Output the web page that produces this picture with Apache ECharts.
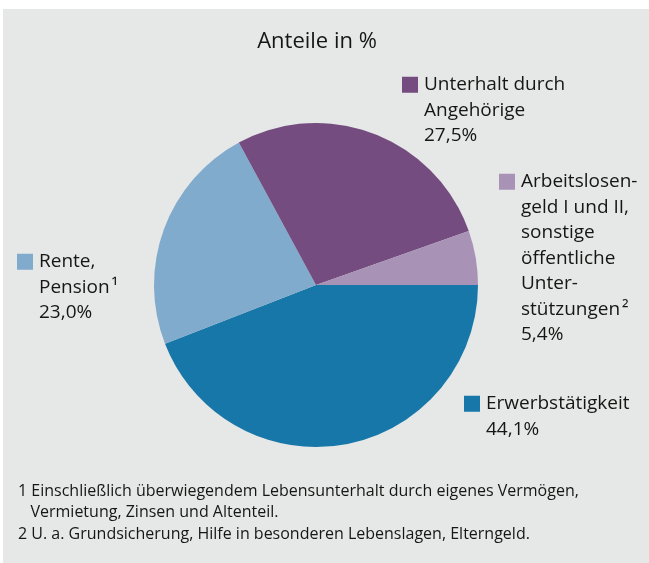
<!DOCTYPE html>
<html>
<head>
<meta charset="utf-8">
<script src="https://cdn.jsdelivr.net/npm/echarts@6/dist/echarts.min.js"></script>
<style>
  html, body { margin: 0; padding: 0; background: #fff; }
  #chart { width: 649px; height: 563px; }
</style>
</head>
<body>
<div id="chart"></div>
<script>
// Daten: Anteile in %
const categories = ['Erwerbstätigkeit', 'Rente, Pension', 'Unterhalt durch Angehörige', 'Arbeitslosengeld I und II, sonstige öffentliche Unterstützungen'];
const values = [44.1, 23.0, 27.5, 5.4];
// Beschriftung, zeilenweise umbrochen wie im Original
const labelLines = [
  ['Erwerbstätigkeit'],
  ['Rente,', 'Pension\u200a¹'],
  ['Unterhalt durch', 'Angehörige'],
  ['Arbeitslosen-', 'geld I und II,', 'sonstige', 'öffentliche', 'Unter-', 'stützungen\u200a²']
];
const colors = ['#1777a8', '#80abcc', '#744c7f', '#a892b6'];
const footnotes = [
  '1 Einschließlich überwiegendem Lebensunterhalt durch eigenes Vermögen,',
  '   Vermietung, Zinsen und Altenteil.',
  '2 U. a. Grundsicherung, Hilfe in besonderen Lebenslagen, Elterngeld.'
];

// Position der Beschriftungsblöcke (linke obere Ecke)
const labelPos = [[464, 391], [17, 249], [402, 72], [499, 169]];

const FONT = '"Open Sans", "Noto Sans", sans-serif';
const TEXT = '#161615';

const chart = echarts.init(document.getElementById('chart'), null, { renderer: 'canvas' });

const fmt = v => v.toFixed(1).replace('.', ',') + '%';

const rich = { t: { fontSize: 19, fontFamily: FONT, color: TEXT, lineHeight: 25.5 }, pad: { width: 22, lineHeight: 25.5 } };
colors.forEach((c, i) => {
  rich['sq' + i] = { width: 16, height: 16, backgroundColor: c, lineHeight: 25.5 };
});
rich.gap = { width: 6, lineHeight: 25.5 };

const option = {
  backgroundColor: '#fff',
  animation: false,
  color: colors,
  title: {
    text: 'Anteile in %',
    left: 312,
    textAlign: 'center',
    top: 26,
    textStyle: { fontFamily: FONT, fontSize: 22, fontWeight: 'normal', color: TEXT }
  },
  graphic: [
    {
      type: 'rect', z: -10, silent: true,
      shape: { x: 3, y: 9, width: 646, height: 554 },
      style: { fill: '#e6e7e7' }
    },
    ...footnotes.map((t, i) => ({
      type: 'text', silent: true,
      left: 18, top: 483 + i * 21.7,
      style: { text: t, font: '16px ' + FONT, fill: TEXT }
    }))
  ],
  series: [
    {
      type: 'pie',
      center: [316, 285],
      radius: 162,
      startAngle: 0,
      clockwise: true,
      silent: true,
      itemStyle: { borderWidth: 0 },
      emphasis: { disabled: true },
      labelLine: { show: false },
      label: {
        show: true,
        position: 'outside',
        overflow: 'none',
        edgeDistance: 0,
        formatter: p => {
          const lines = labelLines[p.dataIndex].concat([fmt(p.value)]);
          return lines.map((l, k) => (k === 0 ? '{sq' + p.dataIndex + '|}{gap|}' : '{pad|}') + '{t|' + l + '}').join('\n');
        },
        rich: rich
      },
      labelLayout: p => ({
        x: labelPos[p.dataIndex][0],
        y: labelPos[p.dataIndex][1],
        align: 'left',
        verticalAlign: 'top'
      }),
      data: categories.map((c, i) => ({ name: c, value: values[i] }))
    }
  ]
};

chart.setOption(option);
</script>
</body>
</html>
